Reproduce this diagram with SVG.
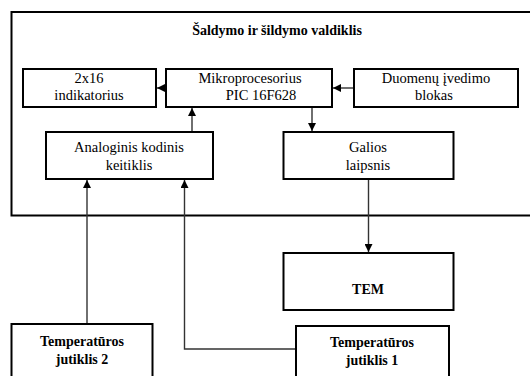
<svg xmlns="http://www.w3.org/2000/svg" width="530" height="376" viewBox="0 0 530 376" font-family="Liberation Serif" font-size="14.5" text-anchor="middle">
<defs>
<marker id="ah" viewBox="0 0 10 10" refX="10" refY="5" markerWidth="8" markerHeight="8" markerUnits="userSpaceOnUse" orient="auto">
<path d="M0,0 L10,5 L0,10 z" fill="#000"/>
</marker>
</defs>
<rect width="530" height="376" fill="#fff"/>
<g id="outer">
<path d="M540,12 L11.5,12 L11.5,215.5 L540,215.5" fill="none" stroke="#000" stroke-width="2"/>
<text x="277" y="35" font-weight="bold" font-size="14">Šaldymo ir šildymo valdiklis</text>
</g>
<g id="connectors" fill="none" stroke="#333" stroke-width="1.4">
<line x1="166" y1="88" x2="157" y2="88" marker-end="url(#ah)"/>
<line x1="354" y1="88" x2="333" y2="88" marker-end="url(#ah)"/>
<line x1="192" y1="132" x2="192" y2="108" marker-end="url(#ah)"/>
<line x1="312" y1="107" x2="312" y2="131" marker-end="url(#ah)"/>
<line x1="368.5" y1="179" x2="368.5" y2="252" marker-end="url(#ah)"/>
<line x1="87" y1="324" x2="87" y2="180" marker-end="url(#ah)"/>
<polyline points="296,349 184.5,349 184.5,180" marker-end="url(#ah)"/>
</g>
<g id="indikatorius">
<rect x="23" y="69" width="133" height="38" fill="#fff" stroke="#000" stroke-width="2"/>
<text x="89" y="83">2x16</text>
<text x="89" y="100">indikatorius</text>
</g>
<g id="mikroprocesorius">
<rect x="166" y="69" width="166" height="38" fill="#fff" stroke="#000" stroke-width="2"/>
<text x="250" y="83">Mikroprocesorius</text>
<text x="261" y="100">PIC 16F628</text>
</g>
<g id="duomenu">
<rect x="354" y="69" width="164" height="38" fill="#fff" stroke="#000" stroke-width="2"/>
<text x="436" y="83">Duomenų įvedimo</text>
<text x="434" y="100">blokas</text>
</g>
<g id="adc">
<rect x="46" y="132" width="167" height="47" fill="#fff" stroke="#000" stroke-width="2"/>
<text x="129" y="152">Analoginis kodinis</text>
<text x="129" y="170">keitiklis</text>
</g>
<g id="galios">
<rect x="283.5" y="132" width="170" height="47" fill="#fff" stroke="#000" stroke-width="2"/>
<text x="368" y="152">Galios</text>
<text x="368" y="170">laipsnis</text>
</g>
<g id="tem" font-weight="bold" font-size="14">
<rect x="283.5" y="253" width="170" height="57" fill="#fff" stroke="#000" stroke-width="2"/>
<text x="368" y="294">TEM</text>
</g>
<g id="jutiklis2" font-weight="bold" font-size="14">
<rect x="11.5" y="324" width="141" height="60" fill="#fff" stroke="#000" stroke-width="2"/>
<text x="82" y="346">Temperatūros</text>
<text x="82" y="364">jutiklis 2</text>
</g>
<g id="jutiklis1" font-weight="bold" font-size="14">
<rect x="296" y="326" width="153" height="60" fill="#fff" stroke="#000" stroke-width="2"/>
<text x="372" y="347">Temperatūros</text>
<text x="372" y="365">jutiklis 1</text>
</g>
</svg>
